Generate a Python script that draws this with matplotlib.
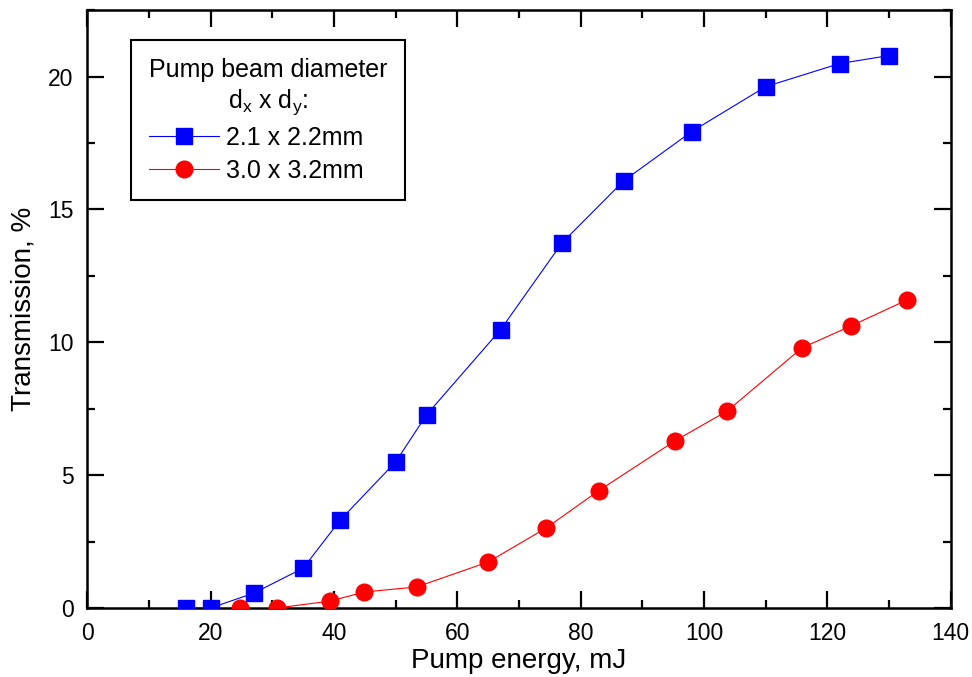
import numpy as np
import matplotlib
matplotlib.use("Agg")
import matplotlib.pyplot as plt
from matplotlib.ticker import MultipleLocator

plt.rcParams['font.family'] = ['Liberation Sans', 'DejaVu Sans']
plt.rcParams['mathtext.fontset'] = 'custom'
plt.rcParams['mathtext.rm'] = 'Liberation Sans'

energy_small = [16, 20, 27, 35, 41, 50, 55, 67, 77, 87, 98, 110, 122, 130]
trans_small = [0, 0, 0.56, 1.5, 3.31, 5.5, 7.27, 10.47, 13.75, 16.08, 17.93, 19.62, 20.49, 20.79]

energy_large = [24.7, 30.8, 39.4, 44.9, 53.4, 65.0, 74.4, 82.9, 95.3, 103.8, 115.9, 123.9, 133.0]
trans_large = [0, 0, 0.26, 0.6, 0.79, 1.73, 3.01, 4.41, 6.29, 7.42, 9.79, 10.62, 11.6]

labels = ["2.1 x 2.2mm", "3.0 x 3.2mm"]

fig = plt.figure(figsize=(9.72, 6.77), dpi=100)
ax = fig.add_axes([0.090, 0.102, 0.888, 0.883])

ax.plot(energy_small, trans_small, color="blue", lw=0.8, marker="s", ms=11,
        mec="blue", label=labels[0], zorder=3)
ax.plot(energy_large, trans_large, color="red", lw=0.8, marker="o", ms=12,
        mec="red", label=labels[1], zorder=3)

ax.set_xlim(0, 140)
ax.set_ylim(0, 22.5)
ax.xaxis.set_major_locator(MultipleLocator(20))
ax.xaxis.set_minor_locator(MultipleLocator(10))
ax.yaxis.set_major_locator(MultipleLocator(5))
ax.yaxis.set_minor_locator(MultipleLocator(2.5))
ax.tick_params(which="both", direction="in", top=True, right=True, width=1.6,
               labelsize=16.5, colors="black")
ax.tick_params(which="major", length=12, pad=10)
ax.tick_params(which="minor", length=6)
for s in ax.spines.values():
    s.set_linewidth(1.8)

ax.set_xlabel("Pump energy, mJ", fontsize=20, labelpad=2)
ax.set_ylabel("Transmission, %", fontsize=20, labelpad=8)

leg = ax.legend(title="Pump beam diameter\n$\\mathrm{d}_{\\mathrm{x}}$ x $\\mathrm{d}_{\\mathrm{y}}$:",
                loc="upper left", bbox_to_anchor=(0.051, 0.95), borderaxespad=0,
                fontsize=18, title_fontsize=18, fancybox=False, framealpha=1,
                edgecolor="black", handlelength=2.8, borderpad=0.7,
                labelspacing=0.35, handletextpad=0.3, alignment="left")
leg.get_frame().set_linewidth(1.5)
leg.get_title().set_multialignment("center")
leg.get_title().set_linespacing(1.3)

fig.savefig("out.png", dpi=100)
